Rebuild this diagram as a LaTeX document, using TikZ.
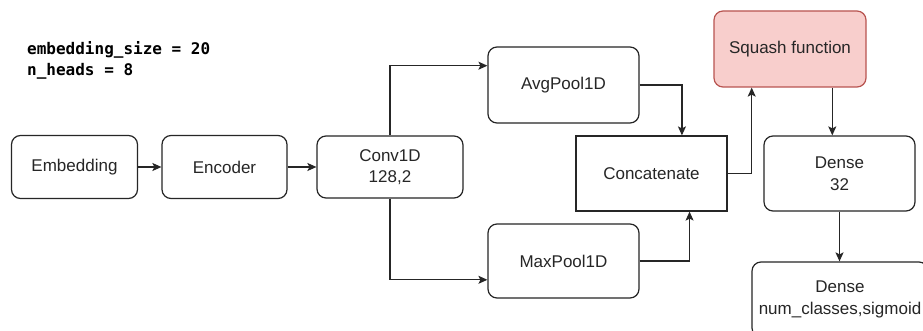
\documentclass[tikz,border=0pt]{standalone}
\usepackage{fontspec}
\setmainfont{Liberation Sans}
\newfontfamily\codefont{DejaVu Sans Mono}
\usetikzlibrary{arrows.meta,calc}
\definecolor{linecol}{HTML}{262626}
\definecolor{sqfill}{HTML}{F8CECC}
\definecolor{sqdraw}{HTML}{B85450}
\tikzset{
  blk/.style={draw=linecol, line width=1.2pt, rounded corners=9pt, align=center,
    font=\fontsize{17}{21.5}\selectfont, text=linecol, inner sep=0pt},
  sqbox/.style={blk, fill=sqfill, draw=sqdraw},
  plainbox/.style={blk, rounded corners=0pt},
  conn/.style={draw=linecol, line width=1.2pt, -{Stealth[length=9pt,width=8pt,inset=2pt]}},
  codetxt/.style={font=\codefont\bfseries\fontsize{16}{20}\selectfont, text=black, inner sep=0pt, anchor=base west}
}
\begin{document}
\begin{tikzpicture}[x=1pt,y=-1pt]
\clip (0,0) rectangle (923,331);
\fill[white] (0,0) rectangle (923,331);
\node[codetxt] (c1) at (27,55) {embedding\_size = 20};
\node[codetxt] (c2) at (27,76) {n\_heads = 8};
\node[blk, minimum width=126pt, minimum height=63pt] (emb) at (74.5,167) {Embedding};
\node[blk, minimum width=125pt, minimum height=63pt] (enc) at (224.5,167) {Encoder};
\node[blk, minimum width=146pt, minimum height=62pt] (conv) at (390,167) {Conv1D\\128,2};
\node[blk, minimum width=151pt, minimum height=76pt] (avg) at (563.5,85) {AvgPool1D};
\node[blk, minimum width=151pt, minimum height=74pt] (max) at (563.5,261) {MaxPool1D};
\node[plainbox, minimum width=151pt, minimum height=75pt] (cat) at (651.5,173.5) {Concatenate};
\node[sqbox, minimum width=152pt, minimum height=76pt] (sq) at (790,49) {Squash function};
\node[blk, minimum width=151pt, minimum height=75pt] (d1) at (839.5,173.5) {Dense\\32};
\node[blk, minimum width=176pt, minimum height=75pt] (d2) at (840,299.5) {Dense\\num\_classes,sigmoid};
\draw[conn] (emb) -- (enc);
\draw[conn] (enc) -- (conv);
\coordinate (avgin) at ($(avg.north west)!0.25!(avg.south west)$);
\coordinate (maxin) at ($(max.north west)!0.75!(max.south west)$);
\draw[conn] (conv.north) |- (avgin);
\draw[conn] (conv.south) |- (maxin);
\coordinate (catin1) at ($(cat.north west)!0.7!(cat.north east)$);
\coordinate (catin2) at ($(cat.south west)!0.75!(cat.south east)$);
\draw[conn] (avg.east) -| (catin1);
\draw[conn] (max.east) -| (catin2);
\coordinate (sqin) at ($(sq.south west)!0.25!(sq.south east)$);
\draw[conn] (cat.east) -| (sqin);
\coordinate (sqout) at ($(sq.south west)!0.776!(sq.south east)$);
\draw[conn] (sqout) -- (sqout |- d1.north);
\draw[conn] (d1.south) -- (d1.south |- d2.north);
\end{tikzpicture}
\end{document}
